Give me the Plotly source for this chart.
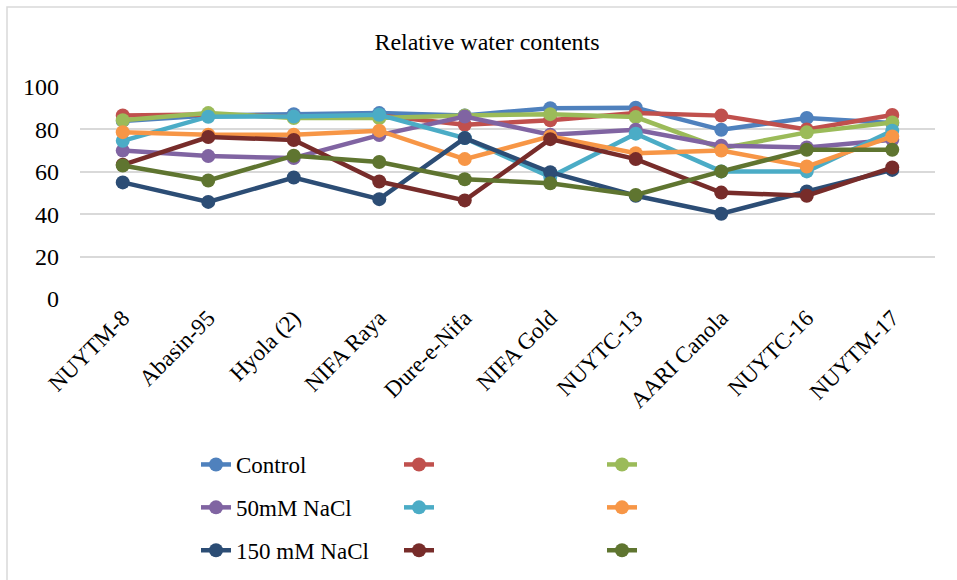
import plotly.graph_objects as go

# Cultivars on the x axis
cultivars = ["NUYTM-8", "Abasin-95", "Hyola (2)", "NIFA Raya", "Dure-e-Nifa",
             "NIFA Gold", "NUYTC-13", "AARI Canola", "NUYTC-16", "NUYTM-17"]

# Relative water content (%) per series
control      = [84.0, 86.5, 87.2, 87.7, 86.6, 90.0, 90.2, 79.8, 85.4, 83.0]
series_red   = [86.6, 87.0, 86.0, 86.5, 82.2, 84.3, 87.7, 86.5, 80.0, 86.8]
series_green = [84.3, 87.7, 85.4, 85.4, 86.5, 87.2, 85.8, 71.0, 78.6, 83.3]
nacl_50      = [70.0, 67.4, 66.5, 77.3, 86.1, 77.5, 79.8, 72.3, 71.5, 75.1]
series_cyan  = [74.6, 86.0, 86.1, 86.9, 75.9, 57.5, 78.0, 60.2, 60.2, 79.4]
series_orange= [78.7, 77.5, 77.5, 79.4, 66.0, 76.7, 68.8, 70.0, 62.5, 76.7]
nacl_150     = [55.0, 45.8, 57.3, 47.1, 75.9, 59.8, 48.7, 40.2, 50.7, 60.9]
series_dred  = [63.3, 76.4, 75.0, 55.4, 46.5, 75.4, 66.0, 50.2, 48.7, 62.0]
series_dgreen= [63.0, 55.9, 67.6, 64.6, 56.5, 54.6, 49.1, 60.2, 70.4, 70.4]

names = ["Control", " ", "  ", "50mM NaCl", "   ", "    ", "150 mM NaCl", "     ", "      "]
values = [control, series_red, series_green, nacl_50, series_cyan, series_orange,
          nacl_150, series_dred, series_dgreen]
colors = ["#4F81BD", "#C0504D", "#9BBB59", "#8064A2", "#4BACC6", "#F79646",
          "#2C4D75", "#772C2A", "#5F7530"]
# three legend columns, filled row by row
legend_ids = ["legend", "legend2", "legend3"] * 3

FONT = "Liberation Serif, Times New Roman, serif"

fig = go.Figure()
for i, (nm, v, c) in enumerate(zip(names, values, colors)):
    fig.add_trace(go.Scatter(
        x=cultivars, y=v, name=nm, mode="lines+markers",
        line=dict(color=c, width=4.5),
        marker=dict(color=c, size=14),
        legend=legend_ids[i], legendgroup=f"g{i}",
    ))

W, H = 957, 580
ml, mr, mt, mb = 80, 22, 87, 281
pw = W - ml - mr
ph = H - mt - mb

def px_x(x):
    return (x - ml) / pw

def px_y(y):
    return (H - mb - y) / ph

legend_common = dict(
    orientation="v", xref="paper", yref="paper", yanchor="top", xanchor="left",
    y=px_y(443), font=dict(family=FONT, size=23, color="#000000"),
    bgcolor="rgba(0,0,0,0)", tracegroupgap=10, itemwidth=30,
)

fig.update_layout(
    width=W, height=H,
    margin=dict(l=ml, r=mr, t=mt, b=mb, autoexpand=False),
    paper_bgcolor="white", plot_bgcolor="white",
    font=dict(family=FONT, color="#000000"),
    title=dict(text="Relative water contents", x=487 / W, xanchor="center",
               y=1 - 42 / H, yanchor="middle", xref="container", yref="container",
               font=dict(family=FONT, size=24, color="#000000")),
    xaxis=dict(tickangle=-45, tickfont=dict(family=FONT, size=23, color="#000000"),
               showgrid=False, showline=False, ticks="", zeroline=False,
               range=[-0.5, 9.5]),
    yaxis=dict(range=[0, 100], dtick=20, tickfont=dict(family=FONT, size=24, color="#000000"),
               showgrid=True, gridcolor="#D9D9D9", gridwidth=1.5, zeroline=False,
               showline=False, ticks="", ticklabelstandoff=20),
    legend=dict(x=px_x(196), **legend_common),
    legend2=dict(x=px_x(399), **legend_common),
    legend3=dict(x=px_x(602), **legend_common),
    shapes=[dict(type="rect", xref="paper", yref="paper",
                 x0=px_x(7), x1=px_x(W + 20), y0=px_y(H + 20), y1=px_y(7),
                 line=dict(color="#D9D9D9", width=1.5), layer="below")],
)

fig.write_html("out.html")
